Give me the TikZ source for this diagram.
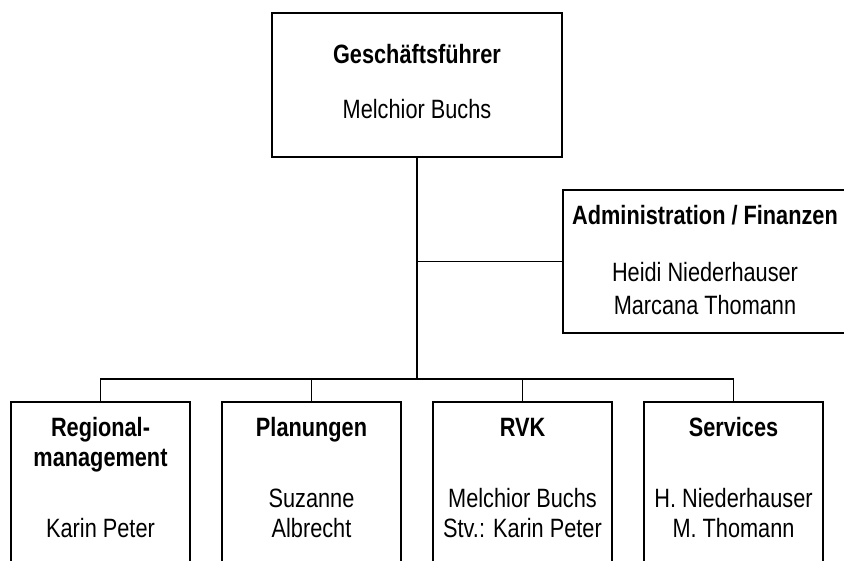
\documentclass[tikz,border=0pt]{standalone}
\usepackage{fontspec}
\setmainfont{Liberation Sans}[FakeStretch=0.82]
\begin{document}
\begin{tikzpicture}[x=1pt,y=-1pt,
  box/.style={draw=black,line width=1.8pt,rectangle,inner sep=0pt},
  lbl/.style={anchor=base,inner sep=0pt,font=\fontsize{26.5}{30}\selectfont},
  ttl/.style={lbl,font=\fontsize{26.5}{30}\selectfont\bfseries},
  conn/.style={draw=black,line width=1.8pt}]
\useasboundingbox (0,0) rectangle (844,561);
\clip (0,0) rectangle (844,561);
\fill[white] (0,0) rectangle (844,561);
% boxes
\node[box,minimum width=290pt,minimum height=144pt] (gf) at (417,85) {};
\node[box,minimum width=287pt,minimum height=143pt] (adm) at (706.5,261.5) {};
\node[box,minimum width=179pt,minimum height=198pt] (b1) at (100.5,501) {};
\node[box,minimum width=179pt,minimum height=198pt] (b2) at (311.5,501) {};
\node[box,minimum width=179pt,minimum height=198pt] (b3) at (522.5,501) {};
\node[box,minimum width=179pt,minimum height=198pt] (b4) at (733.5,501) {};
% texts
\node[ttl] (gft) at (417,64) {Geschäftsführer};
\node[lbl] (gfn) at (417,119) {Melchior Buchs};
\node[ttl] (admt) at (705,225) {Administration / Finanzen};
\node[lbl] (admn1) at (705,282) {Heidi Niederhauser};
\node[lbl] (admn2) at (705,315) {Marcana Thomann};
\node[ttl] (b1t1) at (100.5,437) {Regional-};
\node[ttl] (b1t2) at (100.5,467) {management};
\node[lbl] (b1n) at (100.5,537) {Karin Peter};
\node[ttl] (b2t) at (311.5,437) {Planungen};
\node[lbl] (b2n1) at (311.5,507) {Suzanne};
\node[lbl] (b2n2) at (311.5,537) {Albrecht};
\node[ttl] (b3t) at (522.5,437) {RVK};
\node[lbl] (b3n1) at (522.5,507) {Melchior Buchs};
\node[lbl] (b3n2) at (522.5,537) {Stv.: Karin Peter};
\node[ttl] (b4t) at (733.5,437) {Services};
\node[lbl] (b4n1) at (733.5,507) {H. Niederhauser};
\node[lbl] (b4n2) at (733.5,537) {M. Thomann};
% connectors
\coordinate (j) at (417,379);
\path[conn] (gf.south) -- (j);
\path[conn] (gf.south |- adm.west) -- (adm.west);
\path[conn] (b1.north) |- (j) -| (b4.north);
\path[conn] (b2.north) -- (b2.north |- j);
\path[conn] (b3.north) -- (b3.north |- j);
\end{tikzpicture}
\end{document}
